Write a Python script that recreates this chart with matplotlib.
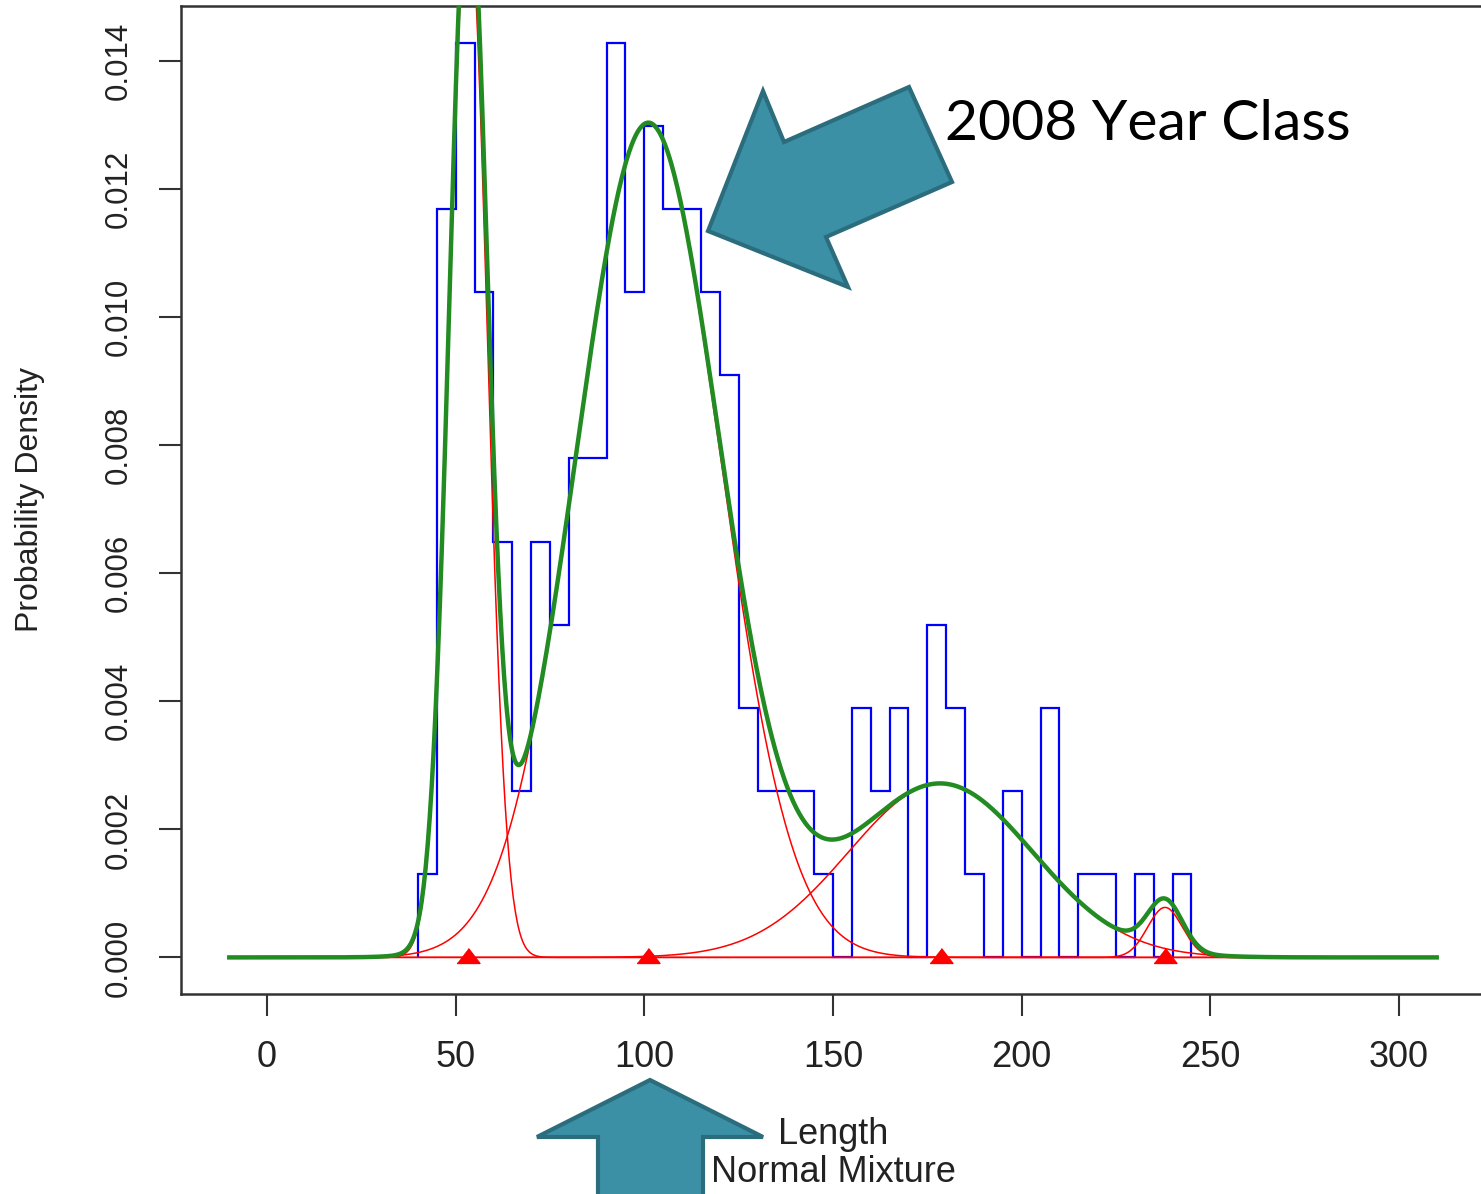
import numpy as np
import matplotlib
matplotlib.use('Agg')
import matplotlib.pyplot as plt
from matplotlib.patches import Polygon

# Histogram of lengths (bin width 5, counts per bin starting at 40)
bin_edges = np.arange(40, 250, 5)
counts = [1, 9, 11, 8, 5, 2, 5, 4, 6, 6,
          11, 8, 10, 9, 9, 8, 7, 3, 2, 2, 2, 1,
          0, 3, 2, 3, 0, 4, 3, 1, 0, 2, 0, 3,
          0, 1, 1, 0, 1, 0, 1]

# Fitted normal mixture components
props = [0.205, 0.620, 0.166, 0.009]
means = [53.3, 101.0, 178.5, 238.0]
sds = [5.0, 19.0, 24.4, 4.6]

x_range = (-10, 310)
y_ticks = [0.000, 0.002, 0.004, 0.006, 0.008, 0.010, 0.012, 0.014]
x_ticks = [0, 50, 100, 150, 200, 250, 300]

W, H = 1481, 1194
fig = plt.figure(figsize=(W / 100, H / 100), dpi=100)
ax = fig.add_axes([181 / W, 200 / H, 1304 / W, 988 / H])

counts = np.array(counts, dtype=float)
density = counts / (counts.sum() * 5)

grid = np.linspace(x_range[0], x_range[1], 1200)
comps = [p / (s * np.sqrt(2 * np.pi)) * np.exp(-(grid - m) ** 2 / (2 * s ** 2))
         for p, m, s in zip(props, means, sds)]
total = np.sum(comps, axis=0)

ax.stairs(density, bin_edges, color='blue', linewidth=1.6, zorder=2)
for c in comps:
    ax.plot(grid, c, color='red', linewidth=1.1, zorder=3)
ax.plot(grid, total, color='#228B22', linewidth=3.2, zorder=4)

tri = [(-1, -0.52), (1, -0.52), (0, 0.78)]
ax.plot(means, np.zeros(len(means)), linestyle='none', marker=tri,
        markersize=16.5, color='red', zorder=5, clip_on=False)

# R style limits (4% extension)
xr = x_range[1] - x_range[0]
ax.set_xlim(x_range[0] - 0.04 * xr, x_range[1] + 0.04 * xr)
hmax = density.max()
ax.set_ylim(-0.04 * hmax, 1.04 * hmax)

gray = '#333333'
for sp in ax.spines.values():
    sp.set_color(gray)
    sp.set_linewidth(1.8)

ax.set_xticks(x_ticks)
ax.set_xticklabels([str(t) for t in x_ticks], fontsize=26,
                   family='Liberation Sans', color='#222222')
ax.set_yticks(y_ticks)
ax.set_yticklabels([f'{t:.3f}' for t in y_ticks], fontsize=22.5,
                   family='Liberation Sans', color='#222222',
                   rotation=90, va='center')
ax.tick_params(axis='x', length=16, width=1.5, color=gray, pad=17)
ax.tick_params(axis='y', length=16, width=1.5, color=gray, pad=18)

ax.set_ylabel('Probability Density', fontsize=23, family='Liberation Sans',
              color='#222222', va='center')
ax.yaxis.set_label_coords((30 - 181) / 1304, 0.5)

ax.text(0.5, (994 - 1135) / 988, 'Length', transform=ax.transAxes,
        ha='center', va='center', fontsize=26, family='Liberation Sans',
        color='#222222')
ax.text(0.5, (994 - 1173) / 988, 'Normal Mixture', transform=ax.transAxes,
        ha='center', va='center', fontsize=26, family='Liberation Sans',
        color='#222222')


# Slide annotations (pixel positions on the picture)
def px(pts):
    return [(x / W, 1 - y / H) for x, y in pts]


fill_c, edge_c = '#3b90a6', '#2b6c7d'
big_arrow = [(708, 231), (763, 91), (784, 142), (909, 87),
             (952, 182), (826, 237), (848, 287)]
fig.add_artist(Polygon(px(big_arrow), closed=True, facecolor=fill_c,
                       edgecolor=edge_c, linewidth=3, transform=fig.transFigure,
                       joinstyle='miter'))
up_arrow = [(650, 1080), (763, 1137), (703, 1137), (703, 1200),
            (598, 1200), (598, 1137), (537, 1137)]
fig.add_artist(Polygon(px(up_arrow), closed=True, facecolor=fill_c,
                       edgecolor=edge_c, linewidth=3, transform=fig.transFigure,
                       joinstyle='miter'))

fig.text(945 / W, 1 - 124 / H, '2008 Year Class', fontsize=41, family='Lato',
         color='black', ha='left', va='center')

fig.savefig('out.png', dpi=100)
